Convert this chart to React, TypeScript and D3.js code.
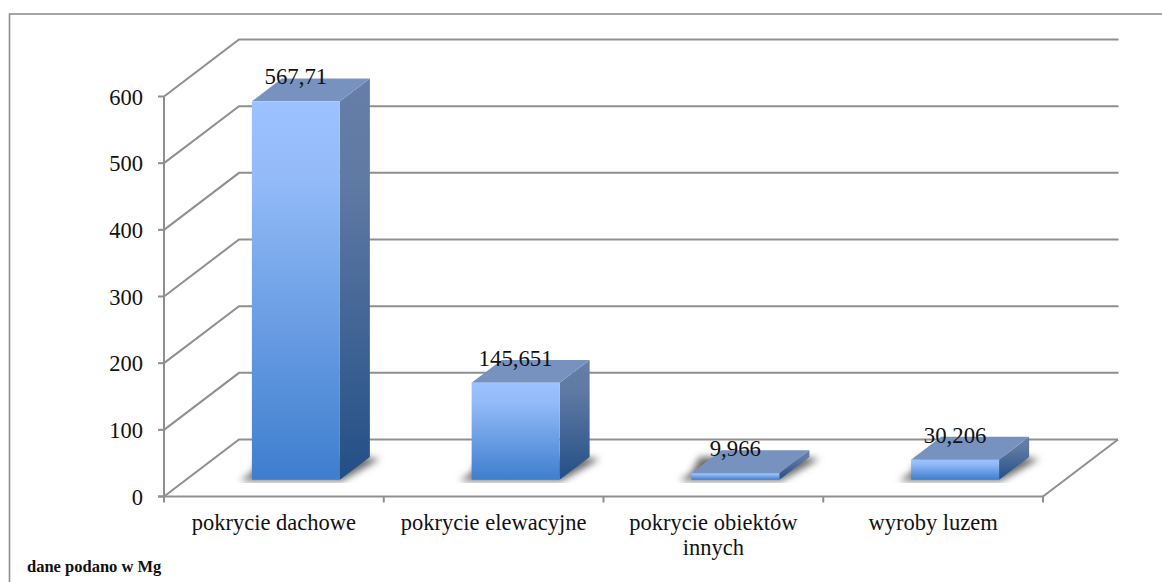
import React from "react";
import * as d3 from "d3";

const categories = ["pokrycie dachowe", "pokrycie elewacyjne", "pokrycie obiektów innych", "wyroby luzem"];
const categoryLines = [["pokrycie dachowe"], ["pokrycie elewacyjne"], ["pokrycie obiektów", "innych"], ["wyroby luzem"]];
const values = [567.71, 145.651, 9.966, 30.206];
const valueLabels = ["567,71", "145,651", "9,966", "30,206"];
const yTicks = [0, 100, 200, 300, 400, 500, 600];

const FONT = "'Liberation Serif', serif";
const GRID = "#8f8f8f";

export default function App() {
  const x = d3.scaleBand<string>().domain(categories).range([164, 1043]);
  const y = d3.scaleLinear().domain([0, 600]).range([496.5, 96.5]);
  const depthX = 75, depthY = -57;
  const bw = 88;
  const barDepth = 0.4, barOff = 0.293;
  const pts = (p: number[][]) => p.map((q) => q.join(",")).join(" ");

  return (
    <svg width={1162} height={582} style={{ position: "absolute", left: 0, top: 0 }} fontFamily={FONT}>
      <defs>
        <linearGradient id="front" x1="0" y1="0" x2="0" y2="1">
          <stop offset="0" stopColor="#9CC2FF" />
          <stop offset="0.2" stopColor="#93BBF8" />
          <stop offset="1" stopColor="#3E7ECE" />
        </linearGradient>
        <linearGradient id="side" x1="0" y1="0" x2="0" y2="1">
          <stop offset="0" stopColor="#667EA8" />
          <stop offset="0.25" stopColor="#607AA4" />
          <stop offset="1" stopColor="#234F86" />
        </linearGradient>
        <filter id="blur" x="-30%" y="-60%" width="160%" height="220%">
          <feGaussianBlur stdDeviation="3.5" />
        </filter>
        <clipPath id="floorClip">
          <rect x={0} y={0} width={1162} height={483} />
        </clipPath>
      </defs>
      <rect x={0} y={0} width={1162} height={582} fill="#fff" />
      <rect x={9.5} y={14} width={1200} height={620} fill="#fff" stroke={GRID} strokeWidth={1.6} />

      {/* grid */}
      {yTicks.map((t) => (
        <g key={t} fill="none" stroke={GRID} strokeWidth={2}>
          <polyline
            points={pts([
              [164, y(t)],
              [164 + depthX, y(t) + depthY],
              [t === 0 ? 1043 + depthX : 1118.5, y(t) + depthY],
            ])}
          />
          <line x1={158} x2={164} y1={y(t)} y2={y(t)} />
        </g>
      ))}
      <g fill="none" stroke={GRID} strokeWidth={2}>
        <line x1={164} x2={164} y1={y(0)} y2={y(600)} />
        <line x1={158} x2={1043} y1={y(0)} y2={y(0)} />
        <line x1={1043} y1={y(0)} x2={1043 + depthX} y2={y(0) + depthY} />
        {[0, 1, 2, 3, 4].map((i) => {
          const tx = 164 + i * x.step();
          return <line key={i} x1={tx} x2={tx} y1={y(0)} y2={y(0) + 6} />;
        })}
      </g>

      {yTicks.map((t) => (
        <text key={t} x={143} y={y(t) + 8} textAnchor="end" fontSize={22.5} fill="#111">
          {t}
        </text>
      ))}

      {/* bars */}
      {categories.map((c, i) => {
        const cx = x(c)! + x.bandwidth() / 2 + 22;
        const x0 = cx - bw / 2;
        const x1 = x0 + bw;
        const base = y(0) + depthY * barOff;
        const h = y(0) - y(values[i]);
        const top = base - h;
        const dx = depthX * barDepth, dy = depthY * barDepth;
        return (
          <g key={c}>
            <g clipPath="url(#floorClip)">
              <polygon
                points={pts([
                  [x0 - 12, base + 1],
                  [x1 + 2, base + 1],
                  [x1 + dx + 10, base + dy + 2],
                  [x1 + dx - 6, base + dy],
                  [x0 + 8, base + dy],
                  [x0, base - 7],
                ])}
                fill="#6c6c6c"
                filter="url(#blur)"
              />
            </g>
            <polygon points={pts([[x1, top], [x1 + dx, top + dy], [x1 + dx, base + dy], [x1, base]])} fill="url(#side)" />
            <polygon points={pts([[x0, top], [x1, top], [x1 + dx, top + dy], [x0 + dx, top + dy]])} fill="#7892C0" />
            <rect x={x0} y={top} width={bw} height={h} fill="url(#front)" />
          </g>
        );
      })}

      {/* value labels */}
      {categories.map((c, i) => {
        const cx = x(c)! + x.bandwidth() / 2 + 22;
        const top = y(0) + depthY * barOff - (y(0) - y(values[i]));
        return (
          <text key={c} x={cx} y={top - 17} textAnchor="middle" fontSize={22.8} fill="#111">
            {valueLabels[i]}
          </text>
        );
      })}

      {/* category labels */}
      {categories.map((c, i) => (
        <text key={c} textAnchor="middle" fontSize={22.5} fill="#111">
          {categoryLines[i].map((l, j) => (
            <tspan key={j} x={x(c)! + x.bandwidth() / 2} y={530 + j * 25}>
              {l}
            </tspan>
          ))}
        </text>
      ))}

      <text x={27} y={572} fontSize={16.5} fontWeight="bold" fill="#111">
        dane podano w Mg
      </text>
    </svg>
  );
}
